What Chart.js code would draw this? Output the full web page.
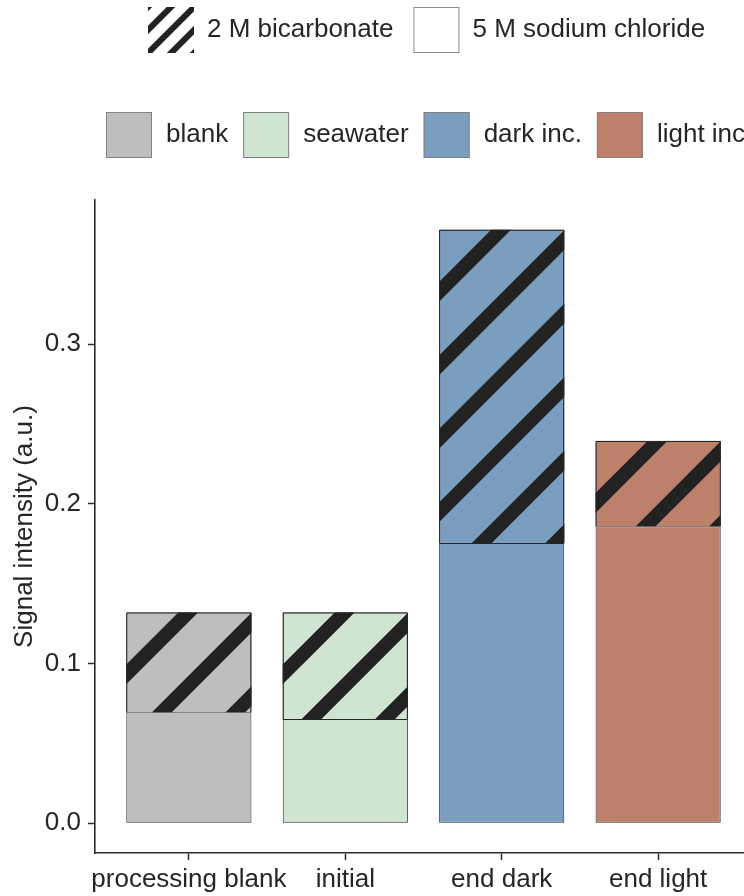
<!DOCTYPE html>
<html>
<head>
<meta charset="utf-8">
<script src="https://cdn.jsdelivr.net/npm/chart.js@4.4.1/dist/chart.umd.min.js"></script>
<style>
  html, body { margin: 0; padding: 0; background: #fff; overflow: hidden; width: 744px; height: 896px; }
  #wrap { width: 860px; height: 896px; }
  canvas { display: block; }
</style>
</head>
<body>
<div id="wrap"><canvas id="c" width="860" height="896"></canvas></div>
<script>
// Sample stages on the x axis
const categories = ['processing blank', 'initial', 'end dark', 'end light'];
// Signal from the 5 M sodium chloride extraction (lower, plain segment)
const sodiumChloride = [0.0695, 0.0653, 0.1756, 0.1861];
// Additional signal from the 2 M bicarbonate extraction (upper, hatched segment)
const bicarbonate = [0.0626, 0.0668, 0.1962, 0.0534];
// Value axis ticks
const yTicks = [0, 0.1, 0.2, 0.3];
// Key entries
const groupNames = ['blank', 'seawater', 'dark inc.', 'light inc.'];
const groupColors = ['#BEBEBE', '#D0E4D2', '#7A9EBF', '#BD806B'];
const solutionNames = ['2 M bicarbonate', '5 M sodium chloride'];

const FONT = "'Liberation Sans', Arial, Helvetica, sans-serif";
const TEXT = '#262626';
const AXIS = '#2b2b2b';
const OUTLINE = '#262626';
const STRIPE = '#222222';

// value range with 5% breathing room on both ends
const totals = sodiumChloride.map((v, i) => v + bicarbonate[i]);
const yTop = Math.max(...totals);
const yPad = yTop * 0.05;

// diagonal stripes clipped to a rectangle; lines follow x + y = const
function stripes(ctx, l, t, r, b, period, width, phase) {
  ctx.save();
  ctx.beginPath();
  ctx.rect(l, t, r - l, b - t);
  ctx.clip();
  ctx.strokeStyle = STRIPE;
  ctx.lineWidth = width;
  ctx.lineCap = 'butt';
  const lo = l + t - width * 2;
  const hi = r + b + width * 2;
  let s = l + t + phase;
  while (s > lo) s -= period;
  ctx.beginPath();
  for (; s <= hi; s += period) {
    const y1 = t - width * 2, y2 = b + width * 2;
    ctx.moveTo(s - y1, y1);
    ctx.lineTo(s - y2, y2);
  }
  ctx.stroke();
  ctx.restore();
}

// hatching over the bicarbonate segments, then their outline again
const hatchPlugin = {
  id: 'hatchSegments',
  afterDatasetsDraw(chart) {
    const ctx = chart.ctx;
    chart.data.datasets.forEach((ds, di) => {
      if (!ds.hatched) return;
      const meta = chart.getDatasetMeta(di);
      meta.data.forEach(bar => {
        const { x, y, base, width } = bar.getProps(['x', 'y', 'base', 'width'], true);
        const l = x - width / 2, r = x + width / 2;
        const t = Math.min(y, base), b = Math.max(y, base);
        stripes(ctx, l, t, r, b, 73.5, 14, 62);
        ctx.save();
        ctx.strokeStyle = OUTLINE;
        ctx.lineWidth = 1;
        ctx.beginPath();
        ctx.moveTo(l + 0.5, b);
        ctx.lineTo(l + 0.5, t + 0.5);
        ctx.lineTo(r - 0.5, t + 0.5);
        ctx.lineTo(r - 0.5, b);
        ctx.stroke();
        ctx.restore();
      });
    });
  }
};

// two key rows above the panel
const keyPlugin = {
  id: 'keyRows',
  afterDraw(chart) {
    const ctx = chart.ctx;
    const size = 46;
    ctx.save();
    ctx.font = `26px ${FONT}`;
    ctx.textBaseline = 'middle';
    ctx.textAlign = 'left';

    // row 1: extraction solutions
    let x = 148, top = 7;
    solutionNames.forEach((name, i) => {
      ctx.fillStyle = '#ffffff';
      ctx.fillRect(x, top, size, size);
      if (i === 0) {
        stripes(ctx, x, top, x + size, top + size, 23, 6, 0);
      } else {
        ctx.strokeStyle = '#8a8a8a';
        ctx.lineWidth = 1;
        ctx.strokeRect(x + 0.5, top + 0.5, size - 1, size - 1);
      }
      ctx.fillStyle = TEXT;
      ctx.fillText(name, x + size + 13, top + size / 2);
      x += size + 13 + ctx.measureText(name).width + 20;
    });

    // row 2: sample groups
    x = 106; top = 112;
    groupNames.forEach((name, i) => {
      ctx.fillStyle = groupColors[i];
      ctx.fillRect(x, top, size, size);
      ctx.strokeStyle = '#808080';
      ctx.lineWidth = 1;
      ctx.strokeRect(x + 0.5, top + 0.5, size - 1, size - 1);
      ctx.fillStyle = TEXT;
      ctx.fillText(name, x + size + 14, top + size / 2);
      x += size + 14 + ctx.measureText(name).width + 15;
    });
    ctx.restore();
  }
};

const toPoints = arr => arr.map((v, i) => ({ x: i + 1, y: v }));

new Chart(document.getElementById('c'), {
  type: 'bar',
  data: {
    datasets: [
      {
        label: solutionNames[1],
        data: toPoints(sodiumChloride),
        backgroundColor: groupColors,
        borderColor: OUTLINE,
        borderWidth: 1,
        borderSkipped: false,
        stack: 'extraction',
        barPercentage: 0.8,
        categoryPercentage: 1
      },
      {
        label: solutionNames[0],
        data: toPoints(bicarbonate),
        backgroundColor: groupColors,
        borderColor: OUTLINE,
        borderWidth: 1,
        borderSkipped: 'start',
        stack: 'extraction',
        barPercentage: 0.8,
        categoryPercentage: 1,
        hatched: true
      }
    ]
  },
  options: {
    responsive: false,
    animation: false,
    devicePixelRatio: 1,
    layout: { padding: { top: 200, right: 108, bottom: 0, left: 0 } },
    plugins: { legend: { display: false }, tooltip: { enabled: false } },
    scales: {
      x: {
        type: 'linear',
        stacked: true,
        offset: false,
        min: 0.4,
        max: 4.6,
        afterBuildTicks: s => { s.ticks = categories.map((c, i) => ({ value: i + 1 })); },
        afterFit: s => { s.height = 43; },
        ticks: {
          callback: v => categories[v - 1] ?? '',
          font: { family: FONT, size: 26 },
          color: TEXT,
          padding: 4,
          maxRotation: 0,
          minRotation: 0,
          autoSkip: false
        },
        grid: { offset: false, drawOnChartArea: false, drawTicks: true, tickLength: 7, tickWidth: 1.5, tickColor: AXIS },
        border: { display: true, color: AXIS, width: 1.6 }
      },
      y: {
        type: 'linear',
        stacked: true,
        min: -yPad,
        max: yTop + yPad,
        afterBuildTicks: s => { s.ticks = yTicks.map(v => ({ value: v })); },
        afterFit: s => { s.width = 95; },
        ticks: {
          callback: v => v.toFixed(1),
          font: { family: FONT, size: 26 },
          color: TEXT,
          padding: 7
        },
        title: {
          display: true,
          text: 'Signal intensity (a.u.)',
          font: { family: FONT, size: 26 },
          color: TEXT,
          padding: { top: 9, bottom: 0 }
        },
        grid: { drawOnChartArea: false, drawTicks: true, tickLength: 7, tickWidth: 1.5, tickColor: AXIS },
        border: { display: true, color: AXIS, width: 1.6 }
      }
    }
  },
  plugins: [hatchPlugin, keyPlugin]
});
</script>
</body>
</html>
